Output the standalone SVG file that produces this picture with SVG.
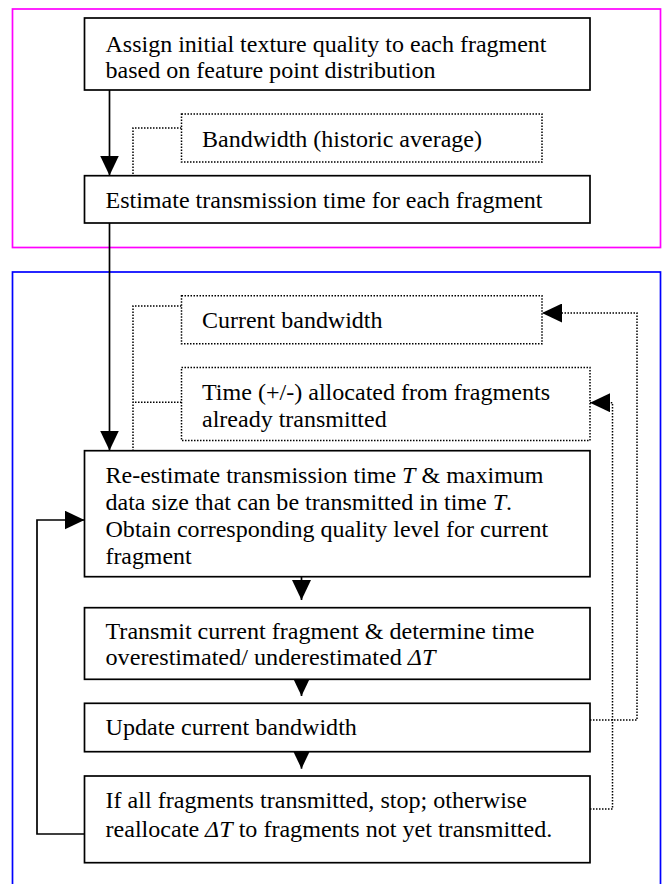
<svg xmlns="http://www.w3.org/2000/svg" width="664" height="884" viewBox="0 0 664 884">
<defs>
<style>
text{font-family:"Liberation Serif","Times New Roman",serif;font-size:23px;fill:#000}
.it{font-style:italic}
.box{fill:#fff;stroke:#000;stroke-width:1.7}
.dbox{fill:#fff;stroke:#000;stroke-width:1.5;stroke-dasharray:1.5 1.5}
.solid{fill:none;stroke:#000;stroke-width:1.7}
.dot{fill:none;stroke:#000;stroke-width:1.5;stroke-dasharray:1.5 1.5}
</style>
<marker id="ah" markerUnits="userSpaceOnUse" markerWidth="20" markerHeight="19" refX="20" refY="9.5" orient="auto">
<path d="M0,0 L20,9.5 L0,19 Z" fill="#000"/>
</marker>
</defs>
<rect x="12.5" y="9" width="648" height="238.5" fill="none" stroke="#ff00ff" stroke-width="1.7"/>
<rect x="12.5" y="272" width="648" height="640" fill="none" stroke="#0000ff" stroke-width="1.7"/>
<g id="connectors">
<path class="solid" d="M109.5,90 V175.5" marker-end="url(#ah)"/>
<path class="solid" d="M109.5,223 V450.5" marker-end="url(#ah)"/>
<path class="solid" d="M301.5,576.7 V600" marker-end="url(#ah)"/>
<path class="solid" d="M301.5,679 V696" marker-end="url(#ah)"/>
<path class="solid" d="M301.5,751.7 V768.7" marker-end="url(#ah)"/>
<path class="solid" d="M84.5,834 H37 V520 H84.5" marker-end="url(#ah)"/>
<path class="dot" d="M590,720 H637 V313 H542" marker-end="url(#ah)"/>
<path class="dot" d="M590,809 H612.5 V402.7 H590" marker-end="url(#ah)"/>
<path class="dot" d="M181.5,128 H133 V175.7"/>
<path class="dot" d="M181.5,306 H133 V450.7"/>
<path class="dot" d="M181.5,402.3 H133"/>
</g>
<g id="assign">
<rect class="box" x="84.5" y="18" width="505.5" height="72"/>
<text x="105.5" y="52" textLength="441" lengthAdjust="spacingAndGlyphs">Assign initial texture quality to each fragment</text>
<text x="105.5" y="78" textLength="330" lengthAdjust="spacingAndGlyphs">based on feature point distribution</text>
</g>
<g id="bandwidth-historic">
<rect class="dbox" x="181.5" y="114" width="360.5" height="48"/>
<text x="202" y="146.5" textLength="280" lengthAdjust="spacingAndGlyphs">Bandwidth (historic average)</text>
</g>
<g id="estimate">
<rect class="box" x="84.5" y="175.7" width="505.5" height="47.3"/>
<text x="105.5" y="207.5" textLength="437" lengthAdjust="spacingAndGlyphs">Estimate transmission time for each fragment</text>
</g>
<g id="current-bandwidth">
<rect class="dbox" x="181.5" y="295.7" width="360.5" height="48"/>
<text x="202" y="327.5" textLength="180.5" lengthAdjust="spacingAndGlyphs">Current bandwidth</text>
</g>
<g id="time-allocated">
<rect class="dbox" x="181.5" y="367.5" width="408.5" height="73"/>
<text x="202" y="400" textLength="348" lengthAdjust="spacingAndGlyphs">Time (+/-) allocated from fragments</text>
<text x="202" y="427" textLength="184.7" lengthAdjust="spacingAndGlyphs">already transmitted</text>
</g>
<g id="re-estimate">
<rect class="box" x="84.5" y="450.7" width="505.5" height="126"/>
<text x="105.5" y="483" textLength="438" lengthAdjust="spacingAndGlyphs">Re-estimate transmission time <tspan class="it">T</tspan> &amp; maximum</text>
<text x="105.5" y="510" textLength="406.6" lengthAdjust="spacingAndGlyphs">data size that can be transmitted in time <tspan class="it">T</tspan>.</text>
<text x="105.5" y="537" textLength="442.6" lengthAdjust="spacingAndGlyphs">Obtain corresponding quality level for current</text>
<text x="105.5" y="563.5" textLength="86" lengthAdjust="spacingAndGlyphs">fragment</text>
</g>
<g id="transmit">
<rect class="box" x="84.5" y="607.7" width="505.5" height="71.6"/>
<text x="105.5" y="638.5" textLength="429" lengthAdjust="spacingAndGlyphs">Transmit current fragment &amp; determine time</text>
<text x="105.5" y="665" textLength="330" lengthAdjust="spacingAndGlyphs">overestimated/ underestimated <tspan class="it">ΔT</tspan></text>
</g>
<g id="update">
<rect class="box" x="84.5" y="703.3" width="505.5" height="48.4"/>
<text x="105.5" y="735" textLength="251.4" lengthAdjust="spacingAndGlyphs">Update current bandwidth</text>
</g>
<g id="reallocate">
<rect class="box" x="84.5" y="776" width="505.5" height="86.7"/>
<text x="105.5" y="808" textLength="421.4" lengthAdjust="spacingAndGlyphs">If all fragments transmitted, stop; otherwise</text>
<text x="105.5" y="837" textLength="446.8" lengthAdjust="spacingAndGlyphs">reallocate <tspan class="it">ΔT</tspan> to fragments not yet transmitted.</text>
</g>
</svg>
